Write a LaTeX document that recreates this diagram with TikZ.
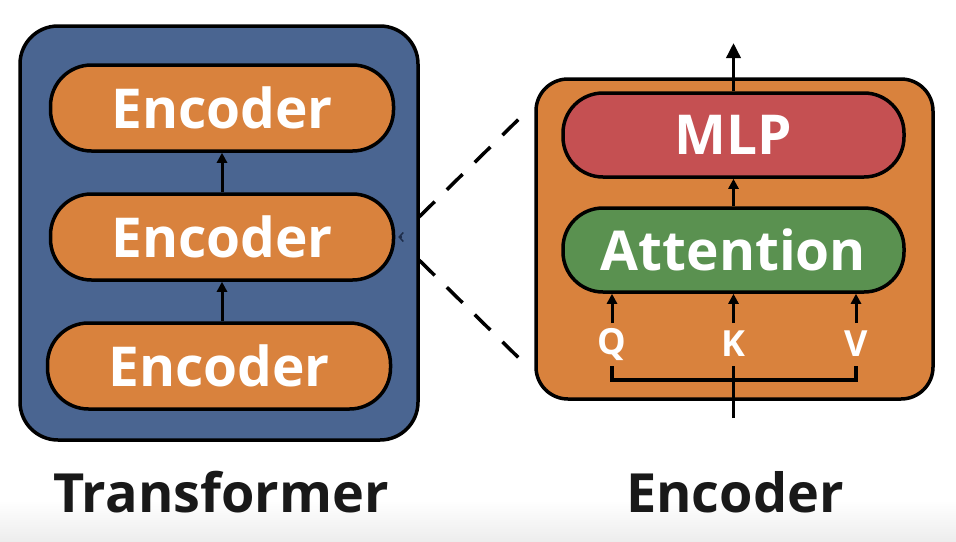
\documentclass[tikz,border=0pt]{standalone}
\usepackage{fontspec}
\setmainfont{Open Sans}
\usetikzlibrary{arrows.meta}
\definecolor{tblue}{HTML}{4A6591}
\definecolor{torange}{HTML}{D9823D}
\definecolor{tred}{HTML}{C55052}
\definecolor{tgreen}{HTML}{5A9150}
\definecolor{tnavy}{HTML}{1E2D4A}
\tikzset{
  container/.style={draw=black, line width=3.5pt, rounded corners=38pt, inner sep=0pt},
  pill/.style={draw=black, line width=3.5pt, rounded corners=41pt, minimum width=343pt,
    minimum height=86pt, inner sep=0pt, text=white, font=\fontsize{55}{60}\selectfont\bfseries},
  qkv/.style={text=white, inner sep=0pt, font=\fontsize{36}{40}\selectfont\bfseries},
  caption/.style={text=black!90, inner sep=0pt, anchor=base, font=\fontsize{54}{60}\selectfont\bfseries},
  arr/.style={-{Triangle[length=10pt,width=10pt]}, line width=3pt},
  bigarr/.style={-{Triangle[length=15pt,width=14pt]}, line width=3.5pt},
  zoomline/.style={line width=3.5pt, dash pattern=on 22pt off 17pt},
}
\begin{document}
\begin{tikzpicture}[x=1pt,y=-1pt]
\useasboundingbox (0,0) rectangle (956,541);
\fill[white] (0,0) rectangle (956,541);
\shade[top color=white, bottom color=black!7] (0,500) rectangle (956,541);

% Transformer container
\node[container, fill=tblue, minimum width=398pt, minimum height=414pt] (tf) at (219,233) {};
\node[pill, fill=torange] (e1) at (222,108) {Encoder};
\node[pill, fill=torange] (e2) at (222,237) {Encoder};
\node[pill, fill=torange] (e3) at (219,366) {Encoder};
\draw[arr] (e2.north) -- (e1.south);
\draw[arr] (e2.south |- e3.north) -- (e2.south);
\draw[-{Straight Barb[length=4pt,width=9pt]}, line width=1.5pt, tnavy] ([xshift=7pt]e2.east) -- ([xshift=3pt]e2.east);

% Encoder detail
\node[container, fill=torange, rounded corners=32pt, minimum width=397pt, minimum height=320pt] (enc) at (734.5,239) {};
\node[pill, fill=tred, minimum width=341pt, minimum height=84pt, rounded corners=40pt] (mlp) at (733.5,135) {MLP};
\node[pill, fill=tgreen, minimum width=341pt, minimum height=84pt, rounded corners=40pt] (att) at (733.5,250) {Attention};
\coordinate (out) at (733.5,43);
\draw[bigarr] (mlp.north) -- (out);
\draw[arr] (att.north) -- (mlp.south);

\node[qkv] (q) at (612,345) {Q};
\node[qkv] (k) at (733.5,344) {K};
\node[qkv] (v) at (856,344) {V};
\coordinate (qa) at (612,323);
\coordinate (ka) at (733.5,323);
\coordinate (va) at (856,323);
\draw[arr] (qa) -- (qa |- att.south);
\draw[arr] (ka) -- (ka |- att.south);
\draw[arr] (va) -- (va |- att.south);
\coordinate (ql) at (612,366);
\coordinate (vl) at (856,366);
\coordinate (kl) at (733.5,366);
\coordinate (in) at (733.5,418);
\draw[line width=3.5pt] (ql) -- (612,380) -- (856,380) -- (vl);
\draw[line width=3.5pt] (in) -- (kl);

% zoom lines
\coordinate (z1) at (419,217);
\coordinate (z2) at (419,260);
\coordinate (z3) at (527,111);
\coordinate (z4) at (527,366);
\draw[zoomline] (z1) -- (z3);
\draw[zoomline] (z2) -- (z4);

% captions
\node[caption] (ct) at (221,512) {Transformer};
\node[caption] (ce) at (735,512) {Encoder};
\end{tikzpicture}
\end{document}
